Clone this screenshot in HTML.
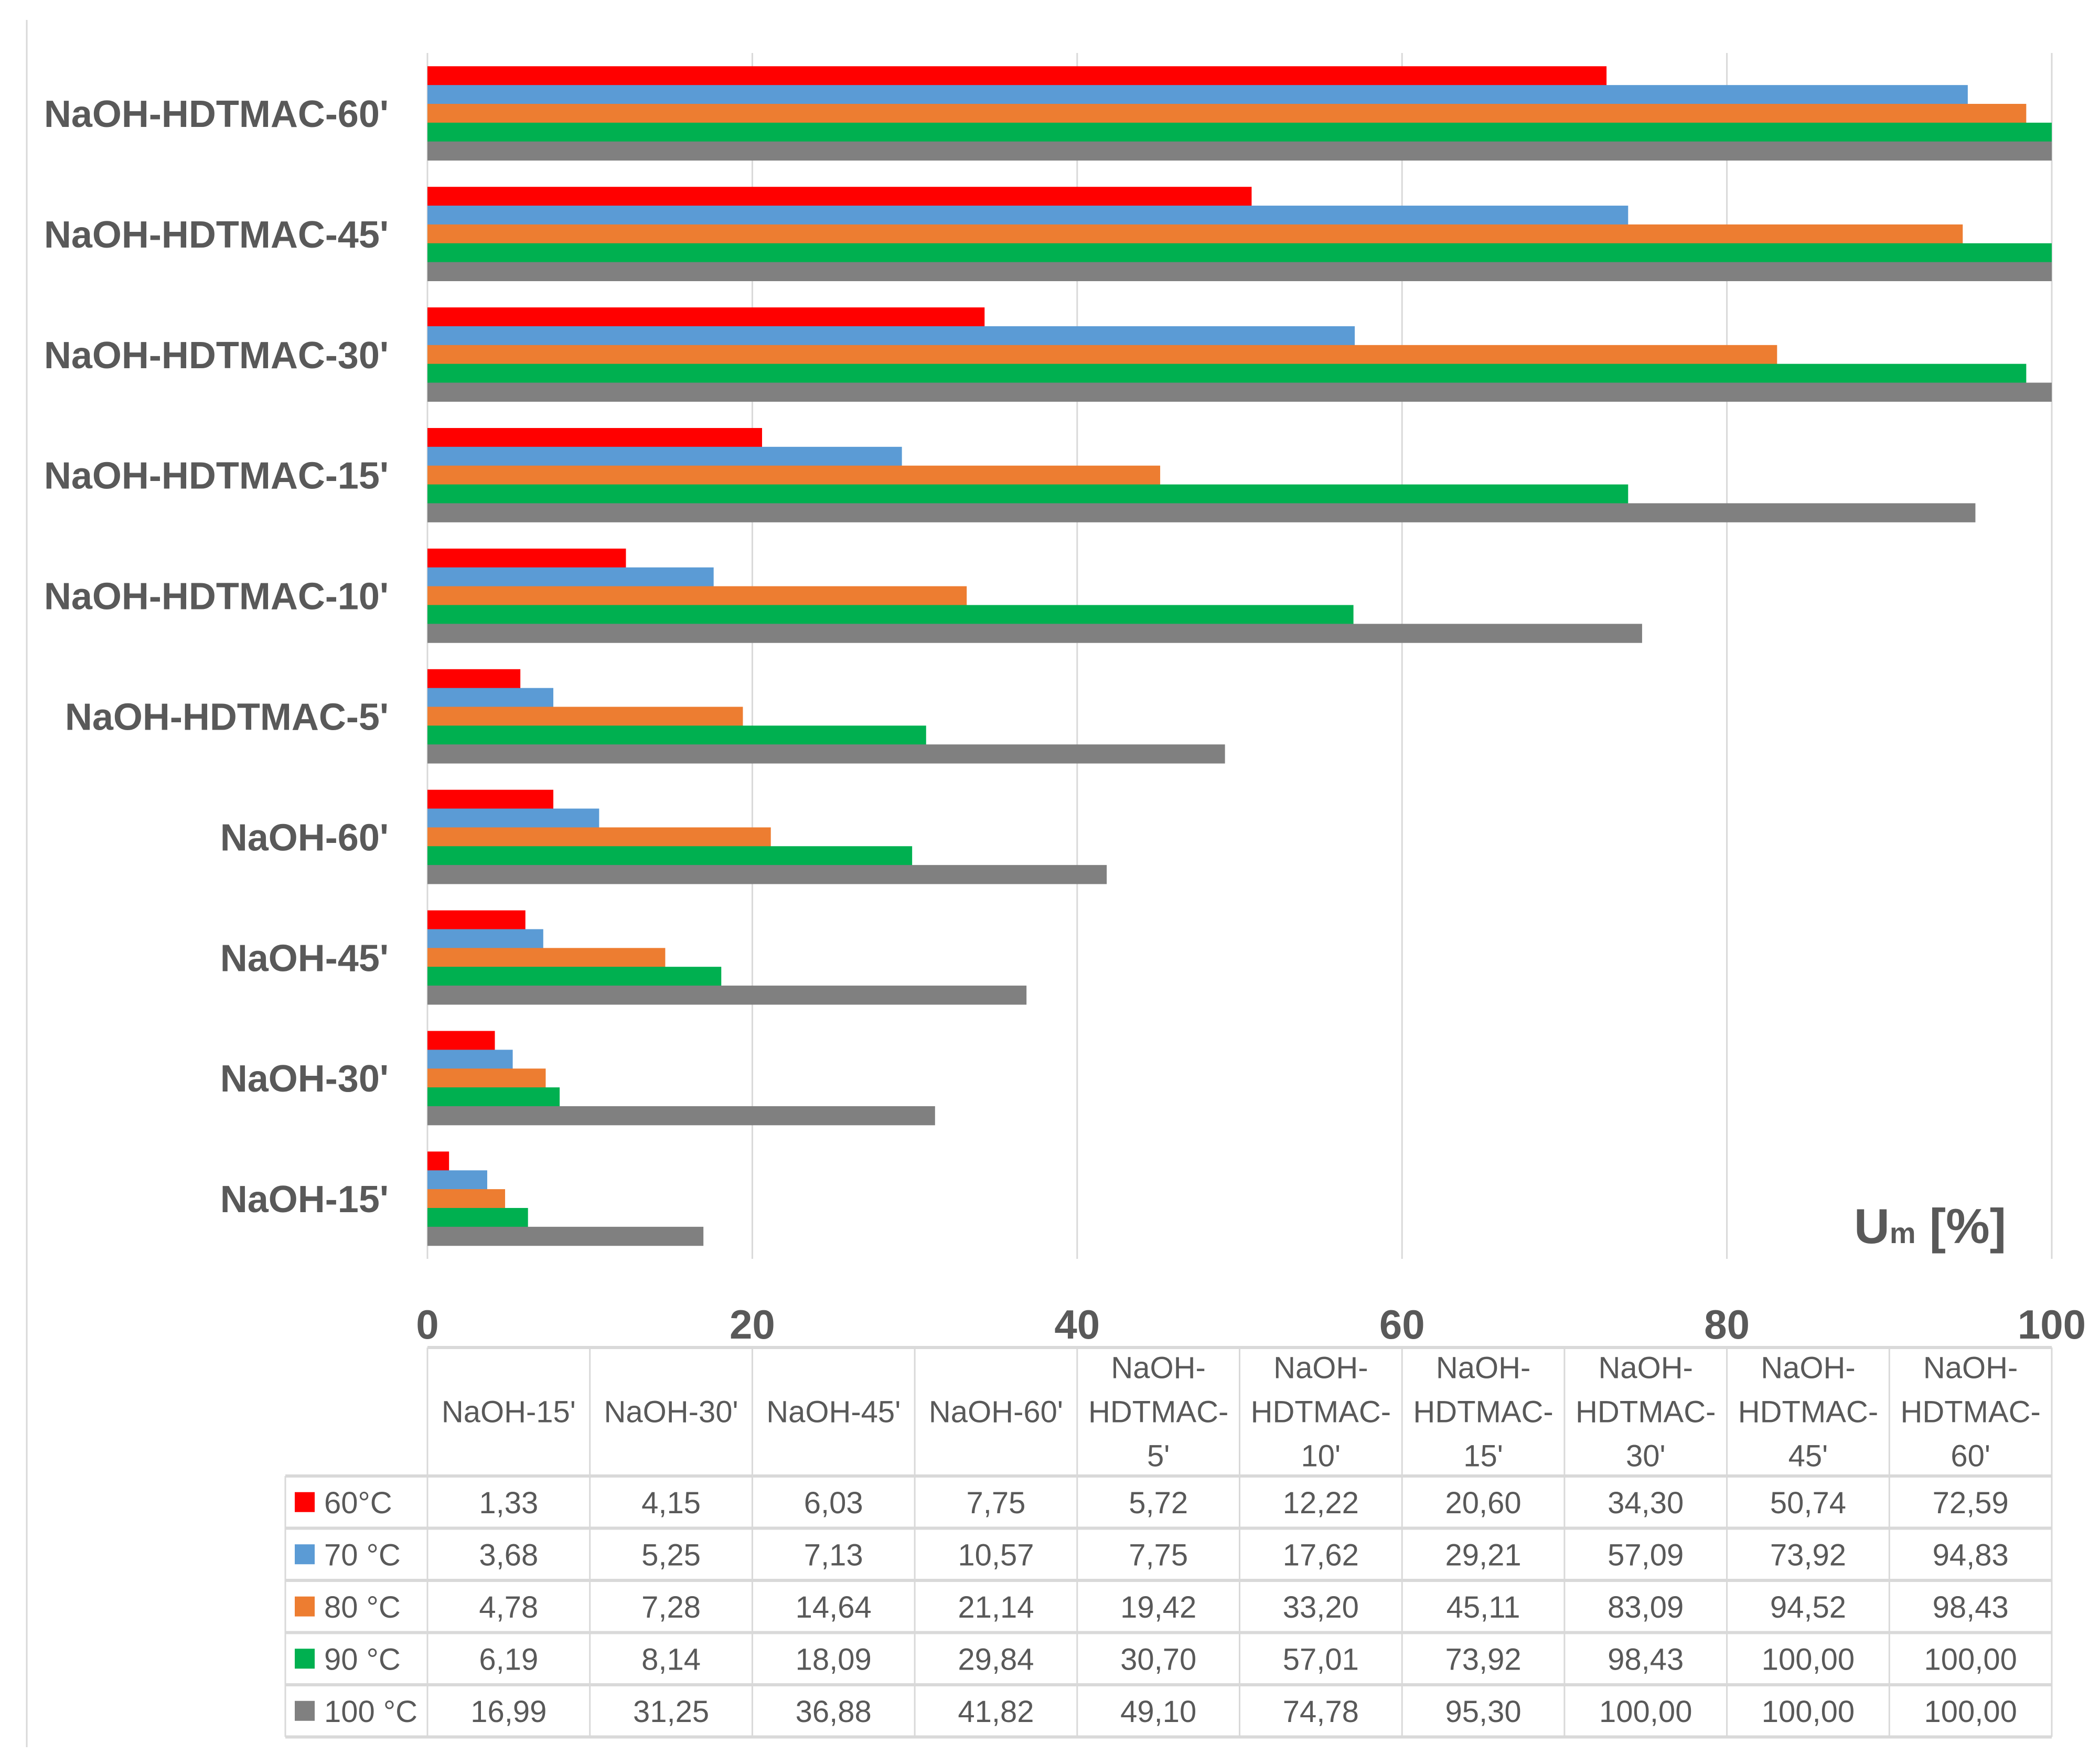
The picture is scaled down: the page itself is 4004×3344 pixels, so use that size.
<!DOCTYPE html>
<html><head><meta charset="utf-8">
<style>
html,body{margin:0;padding:0;background:#fff;}
svg{display:block;font-family:"Liberation Sans",Arial,sans-serif;}
</style></head>
<body>
<svg id="chart" width="4004" height="3344" viewBox="0 0 4004 3344" xmlns="http://www.w3.org/2000/svg">
<rect x="0" y="0" width="4004" height="3344" fill="#fff"/>
<line x1="51" y1="38" x2="51" y2="3331" stroke="#d9d9d9" stroke-width="3"/>
<g id="grid"></g>
<g id="bars"></g>
<g id="cats"></g>
<g id="ticks"></g>
<g id="table"></g>
<text x="3825" y="2370" text-anchor="end" font-size="94" font-weight="bold" fill="#595959">U<tspan font-size="56" dy="0">m</tspan> [%]</text>
</svg>
<script>
const categories = ["NaOH-15'","NaOH-30'","NaOH-45'","NaOH-60'","NaOH-HDTMAC-5'","NaOH-HDTMAC-10'","NaOH-HDTMAC-15'","NaOH-HDTMAC-30'","NaOH-HDTMAC-45'","NaOH-HDTMAC-60'"];
const headerLines = [["NaOH-15'"],["NaOH-30'"],["NaOH-45'"],["NaOH-60'"],["NaOH-","HDTMAC-","5'"],["NaOH-","HDTMAC-","10'"],["NaOH-","HDTMAC-","15'"],["NaOH-","HDTMAC-","30'"],["NaOH-","HDTMAC-","45'"],["NaOH-","HDTMAC-","60'"]];
const seriesNames = ["60°C","70 °C","80 °C","90 °C","100 °C"];
const seriesColors = ["#FF0000","#5B9BD5","#ED7D31","#00B050","#808080"];
const s60 = [1.33,4.15,6.03,7.75,5.72,12.22,20.60,34.30,50.74,72.59];
const s70 = [3.68,5.25,7.13,10.57,7.75,17.62,29.21,57.09,73.92,94.83];
const s80 = [4.78,7.28,14.64,21.14,19.42,33.20,45.11,83.09,94.52,98.43];
const s90 = [6.19,8.14,18.09,29.84,30.70,57.01,73.92,98.43,100.00,100.00];
const s100 = [16.99,31.25,36.88,41.82,49.10,74.78,95.30,100.00,100.00,100.00];
const seriesValues = [s60,s70,s80,s90,s100];
const xTicks = [0,20,40,60,80,100];

const NS="http://www.w3.org/2000/svg";
function mk(tag,attrs,parent,txt){const e=document.createElementNS(NS,tag);for(const k in attrs)e.setAttribute(k,attrs[k]);if(txt!==undefined)e.textContent=txt;parent.appendChild(e);return e;}
const X0=815,X1=3912,Y0=101,Y1=2400;
const band=(Y1-Y0)/categories.length;
const barH=band*0.78/5;
function xs(v){return X0+(X1-X0)*v/100;}
function bandTop(i){return Y0+(categories.length-1-i)*band;}
const fmt=v=>v.toFixed(2).replace('.',',');

const grid=document.getElementById('grid');
xTicks.forEach(t=>{
  const l=mk('line',{x1:xs(t),x2:xs(t),y1:Y0,y2:Y1,stroke:'#d9d9d9','stroke-width':3},grid);
  
  
});
const bars=document.getElementById('bars');
categories.forEach((c,i)=>{
  const top=bandTop(i)+band*0.11;
  seriesValues.forEach((arr,s)=>{
    const r=mk('rect',{x:xs(0),y:top+s*barH,width:xs(arr[i])-xs(0),height:barH+0.5,fill:seriesColors[s]},bars);
    
    
  });
});
const cats=document.getElementById('cats');
categories.forEach((c,i)=>{
  const t=mk('text',{x:741,y:bandTop(i)+band/2+26,'text-anchor':'end','font-size':72,'font-weight':'bold',fill:'#595959'},cats,c);
  
  
});
const ticks=document.getElementById('ticks');
xTicks.forEach(t=>{
  const e=mk('text',{x:xs(t),y:2552,'text-anchor':'middle','font-size':78,'font-weight':'bold',fill:'#595959'},ticks,String(t));
  
  
});
// table
const tb=document.getElementById('table');
const TL=544,colW=(X1-X0)/10,HT=2569,HB=2814,RH=99.5;
const lc='#d9d9d9';
mk('line',{x1:X0,x2:X1,y1:HT,y2:HT,stroke:lc,'stroke-width':6},tb);
for(let r=0;r<=5;r++){const y=HB+r*RH;mk('line',{x1:TL,x2:X1,y1:y,y2:y,stroke:lc,'stroke-width':6},tb);}
for(let c=0;c<=10;c++){const x=X0+c*colW;mk('line',{x1:x,x2:x,y1:HT,y2:HB+5*RH,stroke:lc,'stroke-width':3},tb);}
mk('line',{x1:TL,x2:TL,y1:HB,y2:HB+5*RH,stroke:lc,'stroke-width':3},tb);
headerLines.forEach((lines,c)=>{
  const cx=X0+(c+0.5)*colW;
  const n=lines.length;
  lines.forEach((ln,k)=>{
    const y=(HT+HB)/2+(k-(n-1)/2)*84+20;
    const e=mk('text',{x:cx,y:y,'text-anchor':'middle','font-size':58,fill:'#595959'},tb,ln);
    
    
  });
});
seriesValues.forEach((arr,s)=>{
  const cy=HB+(s+0.5)*RH;
  const sw=mk('rect',{x:562,y:cy-19,width:38,height:38,fill:seriesColors[s]},tb);
  
  
  const lt=mk('text',{x:618,y:cy+21,'font-size':58,fill:'#595959'},tb,seriesNames[s]);
  
  
  arr.forEach((v,c)=>{
    const e=mk('text',{x:X0+(c+0.5)*colW,y:cy+21,'text-anchor':'middle','font-size':58,fill:'#595959'},tb,fmt(v));
    
    
  });
});
</script>
</body></html>
